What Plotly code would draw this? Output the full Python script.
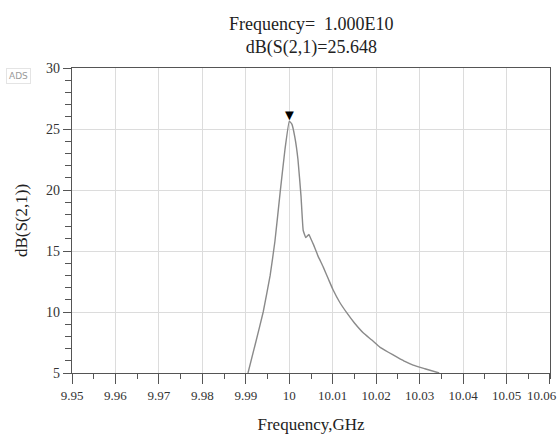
import plotly.graph_objects as go

# Data (frequency in GHz, dB(S(2,1)))
freq_ghz = [9.9905, 9.9922, 9.9940, 9.9956, 9.9967, 9.9979, 9.9990, 10.0000,
            10.0006, 10.0013, 10.0020, 10.0027, 10.0032, 10.0038, 10.0045, 10.0051,
            10.0056, 10.0066, 10.0078, 10.0090, 10.0101, 10.0116, 10.0133,
            10.0150, 10.0170, 10.0190, 10.0209, 10.0228, 10.0248, 10.0266, 10.0285,
            10.0312, 10.0345]
db_s21 = [5.0, 7.4, 10.0, 13.0, 15.8, 19.8, 23.3, 25.648,
          25.4, 24.3, 22.5, 19.5, 16.7, 16.1, 16.35, 15.9,
          15.5, 14.6, 13.7, 12.7, 11.8, 10.8, 9.9,
          9.1, 8.3, 7.7, 7.1, 6.7, 6.3, 5.95, 5.65,
          5.35, 5.0]

marker_freq = 10.0
marker_db = 25.648

x_tickvals = [9.95, 9.96, 9.97, 9.98, 9.99, 10.00, 10.01, 10.02, 10.03, 10.04, 10.05, 10.0599]
x_ticktext = ["9.95", "9.96", "9.97", "9.98", "9.99", "10", "10.01", "10.02", "10.03", "10.04", "10.05", ""]
x_last_label = "10.06"
y_tickvals = [5, 10, 15, 20, 25, 30]

serif = "Times New Roman, Liberation Serif, Nimbus Roman, DejaVu Serif"

fig = go.Figure()
fig.add_trace(go.Scatter(x=freq_ghz, y=db_s21, mode="lines",
                         line=dict(color="#8a8a8a", width=1.4, shape="spline", smoothing=0.3),
                         showlegend=False, hoverinfo="skip"))

fig.add_annotation(x=marker_freq, y=marker_db, text="▼", showarrow=False,
                   yanchor="bottom", yshift=-4, font=dict(size=15, color="black"))

fig.add_annotation(x=0.5, y=1.0, xref="paper", yref="paper", xanchor="center", yanchor="bottom",
                   yshift=8, showarrow=False, align="center",
                   text="Frequency=  1.000E10<br>dB(S(2,1)=25.648",
                   font=dict(family=serif, size=18, color="#222"))

fig.add_annotation(x=-0.112, y=0.975, xref="paper", yref="paper", xanchor="center", yanchor="middle",
                   showarrow=False, text="ADS", font=dict(family="DejaVu Sans", size=9, color="#9a9a9a"),
                   bordercolor="#e4e4e4", borderwidth=1, borderpad=2, bgcolor="white")

# last x tick label, kept inside the page
fig.add_annotation(x=1.0, y=0.0, xref="paper", yref="paper", xanchor="right", yanchor="top",
                   xshift=9, yshift=-13, showarrow=False, text=x_last_label,
                   font=dict(family=serif, size=13, color="#333"))

fig.update_layout(
    width=560, height=437,
    margin=dict(l=72, r=10, t=68, b=64, autoexpand=False),
    paper_bgcolor="white", plot_bgcolor="white",
    font=dict(family=serif, size=12, color="#333"),
    xaxis=dict(range=[9.95, 10.06], tickmode="array", tickvals=x_tickvals, ticktext=x_ticktext,
               automargin=False,
               showgrid=True, gridcolor="#dcdcdc", gridwidth=1,
               showline=True, linecolor="#555", linewidth=1.2, mirror=True,
               ticks="outside", ticklen=10, tickcolor="#555", tickwidth=1.2,
               ticklabeloverflow="allow",
               minor=dict(dtick=0.005, tick0=9.95, ticks="outside", ticklen=5, tickcolor="#555", showgrid=False),
               tickfont=dict(family=serif, size=13, color="#333"),
               title=dict(text="Frequency,GHz", font=dict(family=serif, size=17, color="#222"), standoff=16),
               zeroline=False),
    yaxis=dict(range=[5, 30], tickmode="array", tickvals=y_tickvals,
               automargin=False,
               showgrid=True, gridcolor="#dcdcdc", gridwidth=1,
               showline=True, linecolor="#555", linewidth=1.2, mirror=True,
               ticks="outside", ticklen=8, tickcolor="#555", tickwidth=1.2,
               minor=dict(dtick=1, tick0=5, ticks="outside", ticklen=6, tickcolor="#555", showgrid=False),
               tickfont=dict(family=serif, size=14, color="#333"),
               title=dict(text="dB(S(2,1))", font=dict(family=serif, size=17, color="#222"), standoff=14),
               zeroline=False),
)

fig.write_html("out.html")
